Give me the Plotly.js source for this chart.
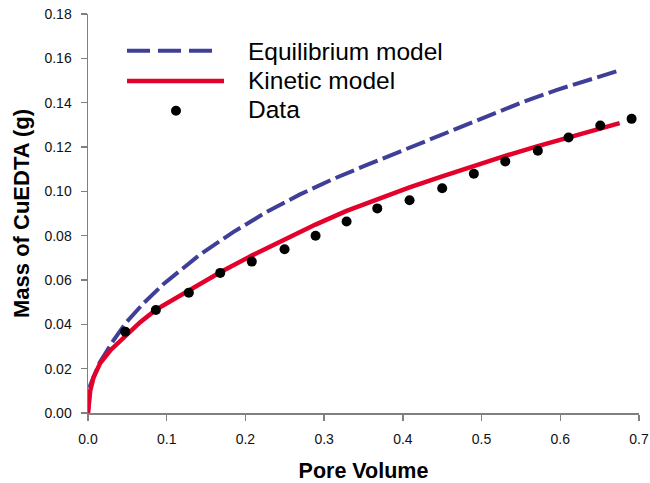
<!DOCTYPE html>
<html>
<head>
<meta charset="utf-8">
<script src="https://cdn.plot.ly/plotly-3.0.1.min.js"></script>
<style>html,body{margin:0;padding:0;background:#fff;}#chart{width:650px;height:483px;}</style>
</head>
<body>
<div id="chart"></div>
<script>
// Equilibrium model curve
const eqX = [0, 0.0028, 0.0146, 0.0324, 0.0493, 0.0705, 0.096, 0.1417, 0.184, 0.2264, 0.2687, 0.311, 0.3535, 0.383, 0.4254, 0.4679, 0.5102, 0.5525, 0.595, 0.6372, 0.6712];
const eqY = [0, 0.0125, 0.0226, 0.0328, 0.0412, 0.0495, 0.0582, 0.0713, 0.0815, 0.0906, 0.0985, 0.1055, 0.1118, 0.1160, 0.1223, 0.1285, 0.1345, 0.1403, 0.1457, 0.1505, 0.1541];

// Kinetic model curve
const kinX = [0, 0.0028, 0.007, 0.0155, 0.0282, 0.047, 0.0663, 0.086, 0.1086, 0.128, 0.168, 0.208, 0.25, 0.289, 0.3285, 0.3675, 0.4085, 0.45, 0.49, 0.53, 0.5715, 0.611, 0.651, 0.6754];
const kinY = [0, 0.0100, 0.0160, 0.0225, 0.0282, 0.0345, 0.0410, 0.0465, 0.0512, 0.0553, 0.0635, 0.0710, 0.0783, 0.0850, 0.0912, 0.0966, 0.1018, 0.1068, 0.1115, 0.1160, 0.1204, 0.1245, 0.1285, 0.1308];

// Measured data points
const dataX = [0.0473, 0.0862, 0.1281, 0.168, 0.2081, 0.2497, 0.2891, 0.3285, 0.3675, 0.4085, 0.450, 0.4902, 0.5301, 0.5715, 0.6105, 0.6508, 0.6906];
const dataY = [0.0367, 0.0465, 0.0543, 0.0632, 0.0683, 0.0739, 0.0800, 0.0864, 0.0923, 0.0960, 0.1014, 0.1079, 0.1135, 0.1183, 0.1243, 0.1297, 0.1327];

const seriesNames = ['Equilibrium model', 'Kinetic model', 'Data'];
const FONT = 'Liberation Sans, Arial, sans-serif';
const BLUE = '#3f3f97', RED = '#e3002b';

const traces = [
  {x: eqX, y: eqY, name: seriesNames[0], mode: 'lines', type: 'scatter',
   line: {color: BLUE, width: 4, dash: '20px,5.5px'}},
  {x: kinX, y: kinY, name: seriesNames[1], mode: 'lines', type: 'scatter',
   line: {color: RED, width: 4.5}},
  {x: dataX, y: dataY, name: seriesNames[2], mode: 'markers', type: 'scatter',
   marker: {color: '#000000', size: 10}}
];

const axisCommon = {
  showline: true, linecolor: '#808080', linewidth: 1.5,
  ticks: 'outside', ticklen: 6, tickcolor: '#808080', tickwidth: 1.5,
  showgrid: false, zeroline: false,
  tickfont: {family: FONT, size: 14, color: '#111'}
};

// Manual legend (paper coordinates of the plot area)
const legendShapes = [
  {type: 'line', xref: 'paper', yref: 'paper', x0: 0.0708, x1: 0.2269, y0: 0.908, y1: 0.908,
   line: {color: BLUE, width: 4, dash: '23px,8px'}},
  {type: 'line', xref: 'paper', yref: 'paper', x0: 0.0708, x1: 0.2468, y0: 0.832, y1: 0.832,
   line: {color: RED, width: 4.5}},
  {type: 'circle', xref: 'paper', yref: 'paper', x0: 0.1506, x1: 0.1688, y0: 0.7451, y1: 0.7702,
   fillcolor: '#000', line: {color: '#000', width: 0}}
];
const legendY = [0.9048, 0.8333, 0.7607];
const legendAnn = seriesNames.map((n, i) => ({
  text: n, xref: 'paper', yref: 'paper', x: 0.2867, y: legendY[i],
  xanchor: 'left', yanchor: 'middle', showarrow: false,
  font: {family: FONT, size: 24.5, color: '#000'}
}));

const layout = {
  width: 650, height: 483,
  margin: {l: 88, r: 11, t: 14, b: 70},
  paper_bgcolor: '#fff', plot_bgcolor: '#fff',
  font: {family: FONT, color: '#000'},
  showlegend: false,
  xaxis: Object.assign({}, axisCommon, {
    range: [0, 0.7], dtick: 0.1, tick0: 0, tickformat: '.1f',
    ticklabelstandoff: 7,
    title: {text: '<b>Pore Volume</b>', font: {family: FONT, size: 21.5, color: '#000'}, standoff: 17}
  }),
  yaxis: Object.assign({}, axisCommon, {
    range: [0, 0.18], dtick: 0.02, tick0: 0, tickformat: '.2f',
    ticklabelstandoff: 6,
    title: {text: '<b>Mass of CuEDTA (g)</b>', font: {family: FONT, size: 22, color: '#000'}, standoff: 9}
  }),
  shapes: legendShapes,
  annotations: legendAnn
};

Plotly.newPlot('chart', traces, layout, {displayModeBar: false, staticPlot: true});
</script>
</body>
</html>
